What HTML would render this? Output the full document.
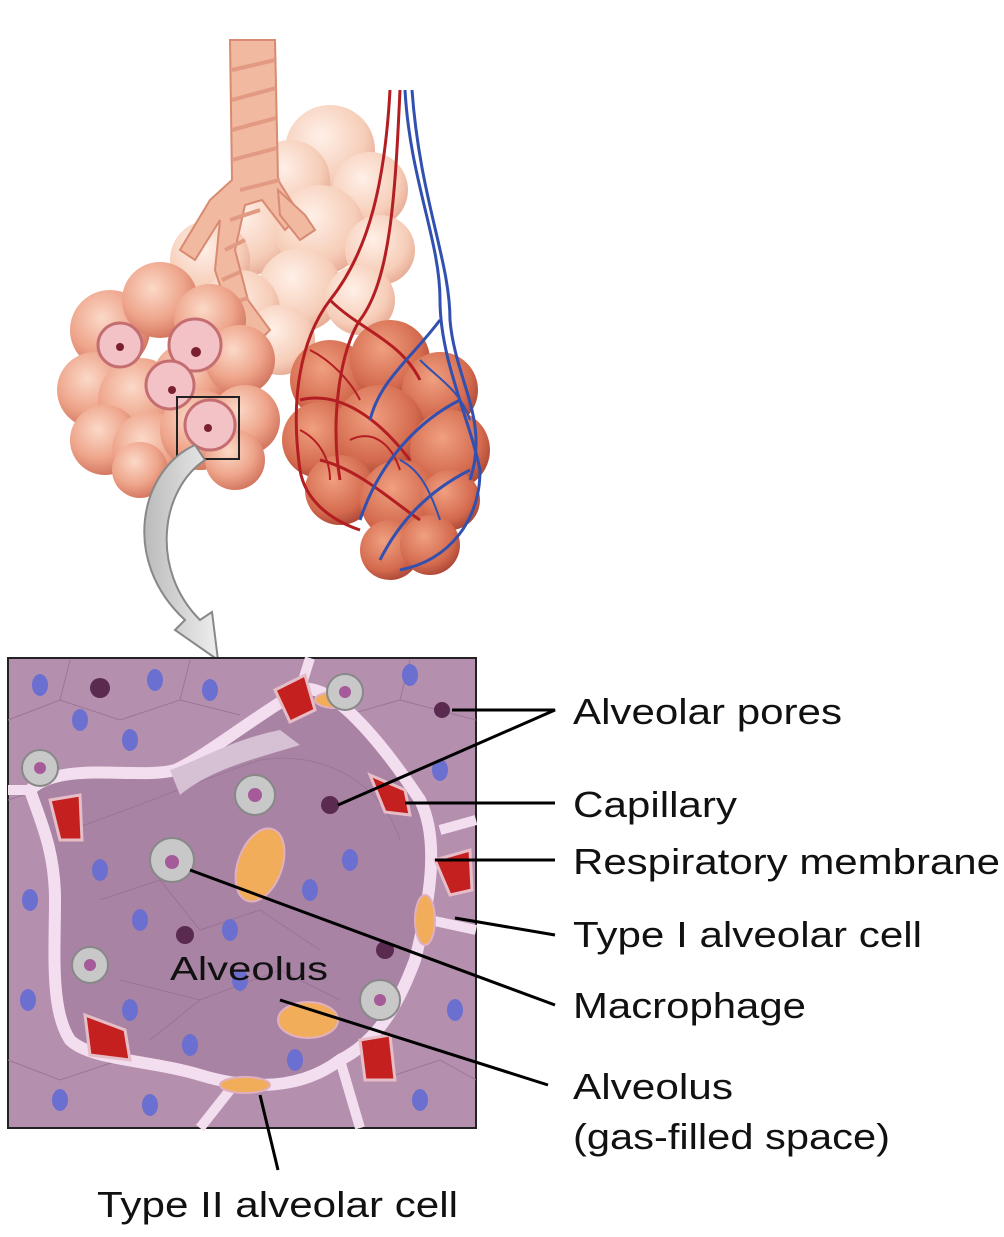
<!DOCTYPE html>
<html><head><meta charset="utf-8"><style>
html,body{margin:0;padding:0;background:#fff;}
svg{display:block;}
text{font-family:"Liberation Sans",Arial,sans-serif;font-size:36px;fill:#111;}
</style></head><body>
<svg width="1004" height="1237" viewBox="0 0 1004 1237" xmlns="http://www.w3.org/2000/svg">
<defs>
<radialGradient id="alv" cx="40%" cy="35%" r="70%">
<stop offset="0" stop-color="#fbd9c8"/><stop offset="0.6" stop-color="#eea48a"/><stop offset="1" stop-color="#d0705a"/>
</radialGradient>
<radialGradient id="alvL" cx="40%" cy="35%" r="70%">
<stop offset="0" stop-color="#fff0e8"/><stop offset="0.7" stop-color="#f6cdb8"/><stop offset="1" stop-color="#e6a892"/>
</radialGradient>
<radialGradient id="alvD" cx="40%" cy="35%" r="70%">
<stop offset="0" stop-color="#f0a080"/><stop offset="0.7" stop-color="#d46a4e"/><stop offset="1" stop-color="#a84434"/>
</radialGradient>
<linearGradient id="arrow" x1="0" x2="1"><stop offset="0" stop-color="#bbb"/><stop offset="1" stop-color="#eee"/></linearGradient>
</defs>

<g fill="url(#alvL)">
<circle cx="330" cy="150" r="45"/><circle cx="290" cy="180" r="40"/><circle cx="370" cy="190" r="38"/>
<circle cx="250" cy="230" r="45"/><circle cx="320" cy="230" r="45"/><circle cx="380" cy="250" r="35"/>
<circle cx="210" cy="260" r="40"/><circle cx="300" cy="290" r="42"/><circle cx="360" cy="300" r="35"/>
<circle cx="240" cy="310" r="40"/><circle cx="280" cy="340" r="35"/>
</g>
<g fill="#f1b9a0" stroke="#d88a72" stroke-width="2">
<path d="M230 40 L275 40 L278 180 L300 215 L285 230 L262 200 L245 205 L235 250 L248 300 L270 330 L255 345 L228 310 L215 270 L220 220 L195 260 L180 250 L210 200 L232 180 Z"/>
<path d="M278 190 L305 215 L315 230 L300 240 L280 215 Z"/>
</g>
<g stroke="#e39a82" stroke-width="4" fill="none">
<path d="M232 70 L275 60 M232 100 L276 88 M232 130 L276 118 M232 160 L277 148 M240 190 L280 180 M230 220 L260 210 M225 250 L245 240 M222 280 L240 272 M226 305 L248 298"/>
</g>
<g fill="url(#alv)">
<circle cx="110" cy="330" r="40"/><circle cx="160" cy="300" r="38"/><circle cx="210" cy="320" r="36"/>
<circle cx="95" cy="390" r="38"/><circle cx="140" cy="400" r="42"/><circle cx="190" cy="380" r="38"/><circle cx="240" cy="360" r="35"/>
<circle cx="105" cy="440" r="35"/><circle cx="150" cy="450" r="38"/><circle cx="200" cy="430" r="40"/><circle cx="245" cy="420" r="35"/>
<circle cx="140" cy="470" r="28"/><circle cx="235" cy="460" r="30"/>
</g>
<g fill="#f3c2c6" stroke="#c56e72" stroke-width="3">
<circle cx="120" cy="345" r="22"/><circle cx="195" cy="345" r="26"/><circle cx="170" cy="385" r="24"/><circle cx="210" cy="425" r="25"/>
</g>
<g fill="#7a2030"><circle cx="120" cy="347" r="4"/><circle cx="196" cy="352" r="5"/><circle cx="172" cy="390" r="4"/><circle cx="208" cy="428" r="4"/></g>
<rect x="177" y="397" width="62" height="62" fill="none" stroke="#222" stroke-width="2"/>
<g fill="url(#alvD)">
<circle cx="330" cy="380" r="40"/><circle cx="390" cy="360" r="40"/><circle cx="440" cy="390" r="38"/>
<circle cx="320" cy="440" r="38"/><circle cx="380" cy="430" r="45"/><circle cx="450" cy="450" r="40"/>
<circle cx="340" cy="490" r="35"/><circle cx="400" cy="500" r="40"/><circle cx="450" cy="500" r="30"/>
<circle cx="390" cy="550" r="30"/><circle cx="430" cy="545" r="30"/>
</g>
<g fill="none" stroke="#b31e22" stroke-width="3">
<path d="M390 90 C385 180 370 250 330 300 C300 340 290 400 300 470 C305 500 330 520 360 530"/>
<path d="M400 90 C395 200 390 280 360 320 C340 350 330 420 340 480"/>
<path d="M330 300 C360 330 400 340 420 380 M300 400 C340 390 380 420 410 460 M320 460 C360 470 390 500 420 520"/>
<path d="M310 350 C330 360 350 380 360 400 M350 440 C370 430 390 440 400 470 M300 430 C320 440 330 460 330 480" stroke-width="2"/>
</g>
<g fill="none" stroke="#3150b0" stroke-width="3">
<path d="M405 90 C410 180 440 240 440 300 C440 360 470 420 480 470 C480 520 450 560 400 570"/>
<path d="M412 90 C420 200 450 260 450 320 C455 380 490 420 470 480"/>
<path d="M440 320 C410 360 380 380 370 420 M460 400 C420 420 380 460 360 520 M470 470 C430 490 400 520 380 560"/>
<path d="M420 360 C440 380 460 390 470 420 M400 460 C420 470 430 490 440 520" stroke-width="2"/>
</g>
<path d="M195 445 C140 470 120 560 185 620 L175 630 L218 660 L212 612 L200 620 C150 570 160 490 205 460 Z" fill="url(#arrow)" stroke="#888" stroke-width="2"/>

<rect x="8" y="658" width="468" height="470" fill="#b58fae" stroke="#222" stroke-width="2"/>
<g stroke="#9c7696" stroke-width="1" fill="none">
<path d="M8 720 L60 700 L120 720 L180 700 L240 715 M60 700 L70 660 M180 700 L190 660 M8 800 L40 790 M330 720 L400 700 L476 720 M400 700 L410 660 M8 1060 L60 1080 L120 1060 M380 1080 L440 1060 L476 1080"/>
</g>
<path d="M30 790 C60 760 140 780 175 770 C200 760 250 720 300 690 C330 680 380 740 420 800 C440 840 430 900 415 960 C400 1000 380 1040 340 1060 C300 1090 250 1090 200 1075 C150 1060 90 1060 70 1040 C50 1010 55 950 55 900 C55 850 40 820 30 790 Z" fill="#a883a3" stroke="#f3def0" stroke-width="12"/>
<path d="M70 830 C130 810 200 780 260 760 C320 750 380 780 400 840" fill="none" stroke="#9c7696" stroke-width="1"/>
<path d="M100 900 L160 880 L200 930 L260 910 L320 950 M120 980 L200 1000 L280 970 L340 1000 M150 1040 L200 1000" fill="none" stroke="#9a7494" stroke-width="1"/>
<path d="M170 770 C200 760 230 740 280 730 L300 745 C250 760 210 770 180 795 Z" fill="#d6c0d4"/>
<g stroke="#f3def0" stroke-width="10" fill="none">
<path d="M8 790 L30 790 M476 820 L440 830 M476 930 L430 920 M340 1060 L360 1128 M230 1090 L200 1128 M300 690 L310 658"/>
</g>
<g fill="#c4201f" stroke="#e6bcc6" stroke-width="3">
<path d="M275 690 L305 675 L315 710 L290 722 Z"/>
<path d="M370 775 L405 790 L410 815 L385 812 Z"/>
<path d="M50 800 L80 795 L82 840 L60 840 Z"/>
<path d="M435 860 L470 850 L472 890 L450 895 Z"/>
<path d="M85 1015 L125 1030 L130 1060 L90 1055 Z"/>
<path d="M360 1040 L390 1035 L395 1080 L365 1080 Z"/>
</g>
<g fill="#f2ad5b" stroke="#e0b0c0" stroke-width="2">
<ellipse cx="260" cy="865" rx="22" ry="38" transform="rotate(20 260 865)"/>
<ellipse cx="308" cy="1020" rx="30" ry="18"/>
<ellipse cx="245" cy="1085" rx="25" ry="8"/>
<ellipse cx="335" cy="700" rx="20" ry="8"/>
<ellipse cx="425" cy="920" rx="10" ry="25"/>
</g>
<g fill="#c8c8c8" stroke="#888" stroke-width="2">
<circle cx="345" cy="692" r="18"/><circle cx="255" cy="795" r="20"/><circle cx="40" cy="768" r="18"/>
<circle cx="172" cy="860" r="22"/><circle cx="90" cy="965" r="18"/><circle cx="380" cy="1000" r="20"/>
</g>
<g fill="#a55a9a"><circle cx="345" cy="692" r="6"/><circle cx="255" cy="795" r="7"/><circle cx="40" cy="768" r="6"/><circle cx="172" cy="862" r="7"/><circle cx="90" cy="965" r="6"/><circle cx="380" cy="1000" r="6"/></g>
<g fill="#5a2a50"><circle cx="442" cy="710" r="8"/><circle cx="330" cy="805" r="9"/><circle cx="185" cy="935" r="9"/><circle cx="385" cy="950" r="9"/><circle cx="100" cy="688" r="10"/></g>
<g fill="#6b6fd0">
<ellipse cx="40" cy="685" rx="8" ry="11"/><ellipse cx="155" cy="680" rx="8" ry="11"/><ellipse cx="210" cy="690" rx="8" ry="11"/><ellipse cx="410" cy="675" rx="8" ry="11"/>
<ellipse cx="130" cy="740" rx="8" ry="11"/><ellipse cx="80" cy="720" rx="8" ry="11"/><ellipse cx="440" cy="770" rx="8" ry="11"/>
<ellipse cx="100" cy="870" rx="8" ry="11"/><ellipse cx="140" cy="920" rx="8" ry="11"/><ellipse cx="230" cy="930" rx="8" ry="11"/><ellipse cx="310" cy="890" rx="8" ry="11"/><ellipse cx="350" cy="860" rx="8" ry="11"/>
<ellipse cx="240" cy="980" rx="8" ry="11"/><ellipse cx="130" cy="1010" rx="8" ry="11"/><ellipse cx="190" cy="1045" rx="8" ry="11"/><ellipse cx="295" cy="1060" rx="8" ry="11"/>
<ellipse cx="30" cy="900" rx="8" ry="11"/><ellipse cx="28" cy="1000" rx="8" ry="11"/><ellipse cx="60" cy="1100" rx="8" ry="11"/><ellipse cx="150" cy="1105" rx="8" ry="11"/><ellipse cx="420" cy="1100" rx="8" ry="11"/><ellipse cx="455" cy="1010" rx="8" ry="11"/>
</g>
<text x="170" y="980" textLength="158" lengthAdjust="spacingAndGlyphs" style="font-size:33px">Alveolus</text>

<g stroke="#000" stroke-width="3" fill="none">
<path d="M452 710 L555 710 L338 805"/>
<path d="M405 803 L555 803"/>
<path d="M435 860 L555 860"/>
<path d="M455 918 L555 935"/>
<path d="M190 870 L555 1005"/>
<path d="M280 1000 L548 1085"/>
<path d="M260 1095 L278 1170"/>
</g>
<text x="573" y="724" textLength="269" lengthAdjust="spacingAndGlyphs">Alveolar pores</text>
<text x="573" y="817" textLength="164" lengthAdjust="spacingAndGlyphs">Capillary</text>
<text x="573" y="874" textLength="427" lengthAdjust="spacingAndGlyphs">Respiratory membrane</text>
<text x="573" y="947" textLength="349" lengthAdjust="spacingAndGlyphs">Type I alveolar cell</text>
<text x="573" y="1018" textLength="233" lengthAdjust="spacingAndGlyphs">Macrophage</text>
<text x="573" y="1099" textLength="160" lengthAdjust="spacingAndGlyphs">Alveolus</text>
<text x="573" y="1149" textLength="317" lengthAdjust="spacingAndGlyphs">(gas-filled space)</text>
<text x="97" y="1217" textLength="361" lengthAdjust="spacingAndGlyphs">Type II alveolar cell</text>
</svg>
</body></html>
